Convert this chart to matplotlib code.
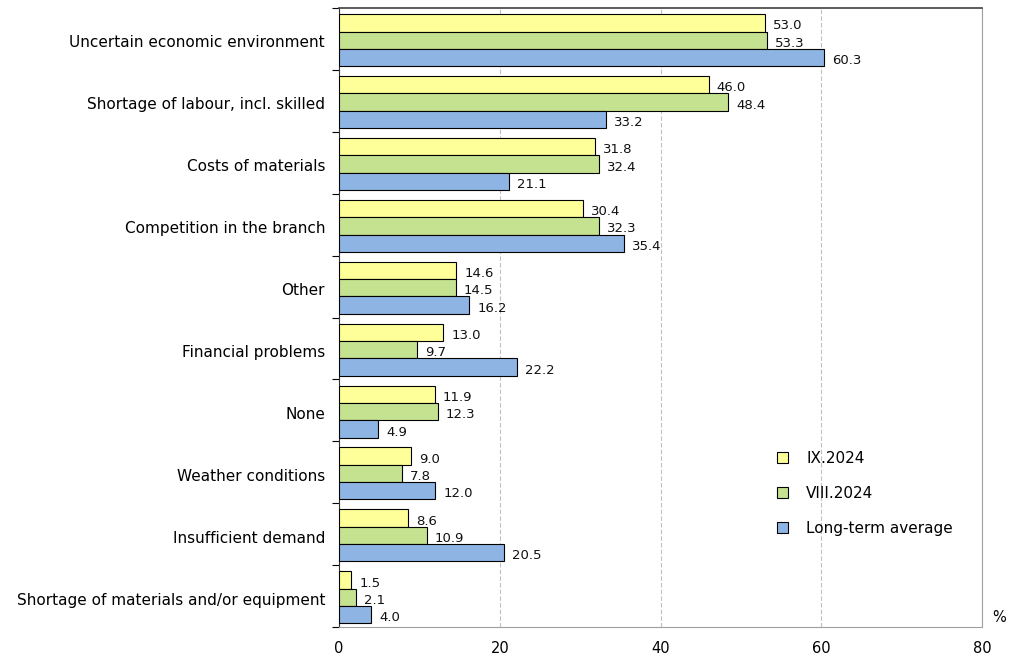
import matplotlib.pyplot as plt
import numpy as np

categories = [
    "Uncertain economic environment",
    "Shortage of labour, incl. skilled",
    "Costs of materials",
    "Competition in the branch",
    "Other",
    "Financial problems",
    "None",
    "Weather conditions",
    "Insufficient demand",
    "Shortage of materials and/or equipment",
]
ix_2024 = [53.0, 46.0, 31.8, 30.4, 14.6, 13.0, 11.9, 9.0, 8.6, 1.5]
viii_2024 = [53.3, 48.4, 32.4, 32.3, 14.5, 9.7, 12.3, 7.8, 10.9, 2.1]
long_term = [60.3, 33.2, 21.1, 35.4, 16.2, 22.2, 4.9, 12.0, 20.5, 4.0]
series_names = ["IX.2024", "VIII.2024", "Long-term average"]
colors = ["#FFFF99", "#C4E28F", "#8DB4E2"]

fig = plt.figure(figsize=(10.14, 6.59), dpi=100)
ax = fig.add_axes([339 / 1014, 32 / 659, 643 / 1014, 619 / 659])

n = len(categories)
centers = np.arange(n) + 0.5
h = 0.28
series = [ix_2024, viii_2024, long_term]
for i, (vals, name, col) in enumerate(zip(series, series_names, colors)):
    y = centers + (i - 1) * h + 0.02
    ax.barh(y, vals, height=h, color=col, edgecolor="black",
            linewidth=0.8, label=name, zorder=3)
    for yy, v in zip(y, vals):
        ax.text(v + 1.0, yy + 0.05, f"{v:.1f}", va="center", ha="left",
                fontsize=9.5, color="#111111", zorder=4)

ax.set_xlim(0, 80)
ax.set_ylim(n, 0)
ax.set_xticks([0, 20, 40, 60, 80])
ax.tick_params(axis="x", length=0, pad=10, labelsize=10.5)
ax.xaxis.grid(True, linestyle=(0, (4, 2)), color="#C0C0C0", linewidth=0.8, zorder=0)

# boundary ticks on the left, category names at the group centres
ax.set_yticks(np.arange(n + 1))
ax.set_yticklabels([])
ax.set_yticks(centers + 0.04, minor=True)
ax.set_yticklabels(categories, minor=True, fontsize=11)
ax.tick_params(axis="y", which="major", length=5, width=0.8, direction="out")
ax.tick_params(axis="y", which="minor", length=0, pad=10)

ax.spines["left"].set_color("#303030")
ax.spines["top"].set_color("#404040")
ax.spines["top"].set_linewidth(1.2)
ax.spines["right"].set_color("#A0A0A0")
ax.spines["bottom"].set_color("#A0A0A0")

ax.text(1.0165, 0.003, "%", transform=ax.transAxes, fontsize=10.5, ha="left", va="bottom")

ax.legend(loc="lower left", bbox_to_anchor=(0.66, 0.125), frameon=False,
          fontsize=11, handlelength=0.7, handleheight=0.7,
          labelspacing=1.3, handletextpad=1.2)

fig.savefig("out.png", dpi=100)
